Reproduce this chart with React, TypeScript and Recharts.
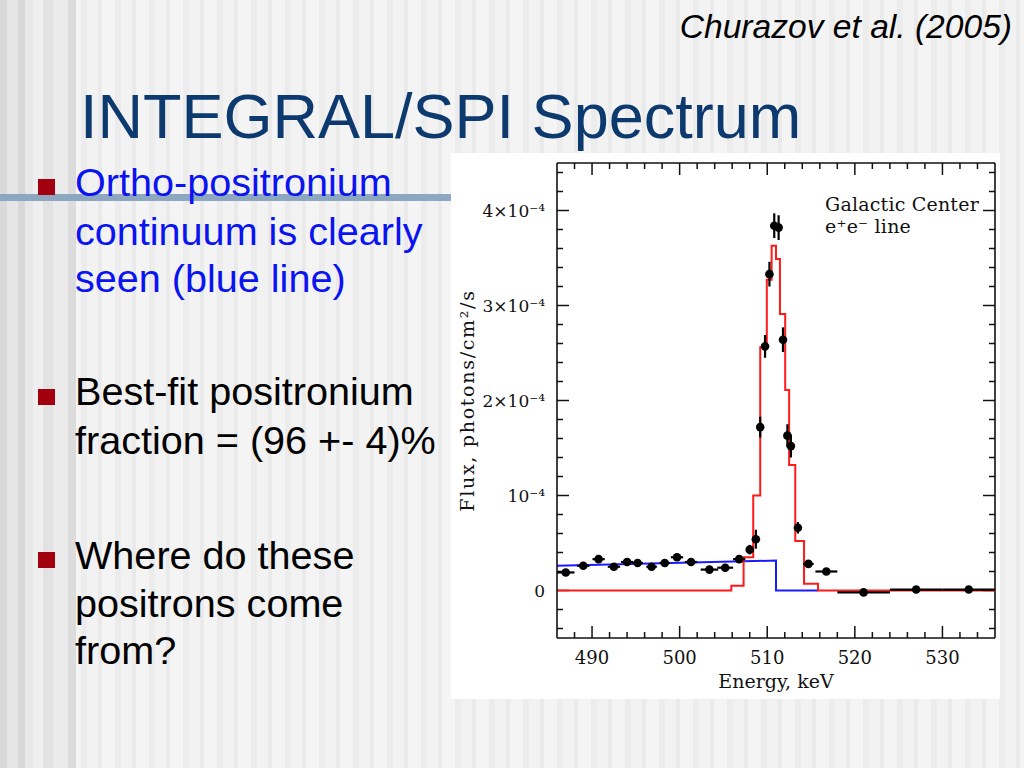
import React from 'react'
import { ComposedChart, Line, Scatter, XAxis, YAxis, ErrorBar, ReferenceLine } from 'recharts'

// SPI data points: energy (keV), flux in units of 1e-4 photons/cm2/s
const pointEnergy = [487.0, 489.0, 490.75, 492.5, 494.0, 495.2, 496.8, 498.3, 499.7, 501.3, 503.4, 505.2, 506.8, 508.0, 508.7, 509.2, 509.75, 510.25, 510.8, 511.3, 511.8, 512.3, 512.7, 513.5, 514.7, 516.75, 521.0, 527.0, 533.0]
const pointFlux = [0.19, 0.26, 0.33, 0.25, 0.30, 0.29, 0.25, 0.29, 0.35, 0.30, 0.22, 0.24, 0.33, 0.43, 0.54, 1.72, 2.57, 3.33, 3.84, 3.82, 2.64, 1.63, 1.52, 0.66, 0.28, 0.20, -0.02, 0.01, 0.01]
const pointEnergyErr = [1.0, 0.7, 0.7, 0.7, 0.7, 0.6, 0.6, 0.6, 0.7, 0.7, 1.0, 0.9, 0.7, 0.3, 0.3, 0.25, 0.25, 0.25, 0.25, 0.25, 0.25, 0.25, 0.25, 0.3, 0.6, 1.25, 3.0, 3.0, 3.0]
const pointFluxErr = [0.03, 0.03, 0.04, 0.03, 0.04, 0.04, 0.03, 0.04, 0.04, 0.04, 0.03, 0.04, 0.04, 0.05, 0.1, 0.11, 0.12, 0.13, 0.13, 0.13, 0.13, 0.12, 0.12, 0.06, 0.04, 0.03, 0.02, 0.02, 0.02]

// best-fit model (red histogram): bin left edges and levels
const modelEdges = [486, 505.9, 507.3, 508.4, 509.2, 509.95, 510.5, 511.0, 511.45, 512.05, 512.5, 513.2, 514.2, 515.8, 536]
const modelFlux = [0, 0.05, 0.35, 1.0, 2.56, 3.27, 3.63, 3.49, 2.91, 2.11, 1.32, 0.52, 0.07, 0, 0]

// ortho-positronium continuum (blue)
const opsEnergy = [486, 511.0, 511.0, 515.8]
const opsFlux = [0.26, 0.315, 0, 0]

const xTicks = [488, 490, 492, 494, 496, 498, 500, 502, 504, 506, 508, 510, 512, 514, 516, 518, 520, 522, 524, 526, 528, 530, 532, 534]
const xMajor = [490, 500, 510, 520, 530]
const yTicks = [-0.4, -0.2, 0, 0.2, 0.4, 0.6, 0.8, 1, 1.2, 1.4, 1.6, 1.8, 2, 2.2, 2.4, 2.6, 2.8, 3, 3.2, 3.4, 3.6, 3.8, 4, 4.2, 4.4]
const yMajor = [0, 1, 2, 3, 4]
const yMajorLabels = ['0', '10⁻⁴', '2×10⁻⁴', '3×10⁻⁴', '4×10⁻⁴']

const X_DOMAIN = [486, 536]
const Y_DOMAIN = [-0.5, 4.5]

const points = pointEnergy.map((e, i) => ({ e, f: pointFlux[i], ex: pointEnergyErr[i], ey: pointFluxErr[i] }))
const model = modelEdges.map((e, i) => ({ e, f: modelFlux[i] }))
const ops = opsEnergy.map((e, i) => ({ e, f: opsFlux[i] }))

const SERIF = '"DejaVu Serif", serif'
const SANS = '"Liberation Sans", Arial, sans-serif'
const AX = '#111'
const TW = 1.5

// plot box is 438 x 475 px; convert tick lengths (px) to data units
const KEV_PER_PX = (X_DOMAIN[1] - X_DOMAIN[0]) / 438
const FLUX_PER_PX = (Y_DOMAIN[1] - Y_DOMAIN[0]) / 475

const isMajorY = (v: number) => yMajor.some((m) => Math.abs(m - v) < 1e-6)

// eslint-disable-next-line @typescript-eslint/no-explicit-any
function BottomTick({ x, y, payload }: any) {
  if (!xMajor.includes(payload.value)) return <g />
  return (
    <text x={x} y={y + 26} textAnchor="middle" fontFamily={SERIF} fontSize={18} fill="#111">
      {payload.value}
    </text>
  )
}

// eslint-disable-next-line @typescript-eslint/no-explicit-any
function LeftTick({ x, y, payload }: any) {
  const idx = yMajor.findIndex((m) => Math.abs(m - payload.value) < 1e-6)
  if (idx < 0) return <g />
  return (
    <text x={x - 12} y={y} dy="0.36em" textAnchor="end" fontFamily={SERIF} fontSize={17} fill="#111">
      {yMajorLabels[idx]}
    </text>
  )
}

// eslint-disable-next-line @typescript-eslint/no-explicit-any
const Dot = ({ cx, cy }: any) => <circle cx={cx} cy={cy} r={4.3} fill="#000" />

const tickMarks = [
  ...xTicks.flatMap((v) => {
    const len = (xMajor.includes(v) ? 12 : 6) * FLUX_PER_PX
    return [
      <ReferenceLine key={`xb${v}`} xAxisId="b" yAxisId="l" ifOverflow="visible" segment={[{ x: v, y: Y_DOMAIN[0] }, { x: v, y: Y_DOMAIN[0] + len }]} stroke={AX} strokeWidth={TW} />,
      <ReferenceLine key={`xt${v}`} xAxisId="b" yAxisId="l" ifOverflow="visible" segment={[{ x: v, y: Y_DOMAIN[1] }, { x: v, y: Y_DOMAIN[1] - len }]} stroke={AX} strokeWidth={TW} />,
    ]
  }),
  ...yTicks.flatMap((v) => {
    const len = (isMajorY(v) ? 12 : 6) * KEV_PER_PX
    return [
      <ReferenceLine key={`yl${v}`} xAxisId="b" yAxisId="l" ifOverflow="visible" segment={[{ x: X_DOMAIN[0], y: v }, { x: X_DOMAIN[0] + len, y: v }]} stroke={AX} strokeWidth={TW} />,
      <ReferenceLine key={`yr${v}`} xAxisId="b" yAxisId="l" ifOverflow="visible" segment={[{ x: X_DOMAIN[1], y: v }, { x: X_DOMAIN[1] - len, y: v }]} stroke={AX} strokeWidth={TW} />,
    ]
  }),
]

const bg =
  'linear-gradient(90deg, #d9d9d9 0px, #d9d9d9 7px, #e6e6e6 7px, #e6e6e6 18px, #d8d8d8 18px, #d8d8d8 25px, #e8e8e8 25px, #e8e8e8 33px, #efefef 33px, #efefef 43px, #e2e2e2 43px, #e2e2e2 53px, #ebebeb 53px, #ebebeb 68px, #dcdcdc 68px, #dcdcdc 76px, rgba(0,0,0,0) 76px), ' +
  'repeating-linear-gradient(90deg, #f4f4f4 0px, #f4f4f4 13px, #ececec 13px, #ececec 19px, #f2f2f2 19px, #f2f2f2 30px, #eaeaea 30px, #eaeaea 34px)'

const bullets = [
  { top: 179, color: '#0a14f0', lines: [['Ortho-positronium', 195.7], ['continuum is clearly', 245], ['seen (blue line)', 291.7]] },
  { top: 389, color: '#000', lines: [['Best-fit positronium', 405], ['fraction = (96 +- 4)%', 454]] },
  { top: 552, color: '#000', lines: [['Where do these', 569.3], ['positrons come', 616.7], ['from?', 664]] },
]

export default function App() {
  return (
    <div style={{ position: 'absolute', left: 0, top: 0, width: 1024, height: 768, overflow: 'hidden', background: bg, backgroundColor: '#f1f1f1' }}>
      <svg width={1024} height={768} style={{ position: 'absolute', left: 0, top: 0 }}>
        <rect x={0} y={194} width={452} height={7} fill="#8ea7c1" />
        <text x={1012} y={38} textAnchor="end" fontFamily={SANS} fontStyle="italic" fontSize={33.6} fill="#000">
          Churazov et al. (2005)
        </text>
        <text x={80} y={138} fontFamily={SANS} fontSize={63} fill="#0d3a6e">
          INTEGRAL/SPI Spectrum
        </text>
        {bullets.map((b, i) => (
          <g key={i}>
            <rect x={38} y={b.top} width={17} height={16} fill="#a3000f" />
            {b.lines.map(([t, base]) => (
              <text key={t as string} x={75} y={base as number} fontFamily={SANS} fontSize={39.6} fill={b.color}>
                {t}
              </text>
            ))}
          </g>
        ))}
        <rect x={451} y={153} width={549} height={546} fill="#ffffff" />
        <text x={825} y={211} fontFamily={SERIF} fontSize={19} letterSpacing={0.2} fill="#111">Galactic Center</text>
        <text x={825} y={233} fontFamily={SERIF} fontSize={19} letterSpacing={0.2} fill="#111">e⁺e⁻ line</text>
      </svg>
      <div style={{ position: 'absolute', left: 450, top: 153 }}>
        <ComposedChart width={550} height={546} margin={{ top: 10, right: 5, bottom: 0, left: 0 }}>
          <XAxis
            xAxisId="b"
            dataKey="e"
            type="number"
            domain={X_DOMAIN}
            allowDataOverflow
            ticks={xTicks}
            interval={0}
            height={61}
            tickSize={0}
            tickMargin={0}
            tickLine={false}
            axisLine={{ stroke: AX, strokeWidth: 1.6 }}
            tick={<BottomTick />}
            // eslint-disable-next-line @typescript-eslint/no-explicit-any
            label={{ content: ({ viewBox }: any) => (
              <text x={viewBox.x + viewBox.width / 2} y={viewBox.y + 50} textAnchor="middle" fontFamily={SERIF} fontSize={19} fill="#111">
                Energy, keV
              </text>
            ) }}
          />
          <YAxis
            yAxisId="l"
            dataKey="f"
            type="number"
            domain={Y_DOMAIN}
            allowDataOverflow
            ticks={yTicks}
            interval={0}
            width={107}
            tickSize={0}
            tickMargin={0}
            tickLine={false}
            axisLine={{ stroke: AX, strokeWidth: 1.6 }}
            tick={<LeftTick />}
            // eslint-disable-next-line @typescript-eslint/no-explicit-any
            label={{ content: ({ viewBox }: any) => {
              const cx = viewBox.x + 24
              const cy = viewBox.y + viewBox.height / 2
              return (
                <text x={cx} y={cy} transform={`rotate(-90, ${cx}, ${cy})`} textAnchor="middle" fontFamily={SERIF} fontSize={19} letterSpacing={1.7} fill="#111">
                  Flux, photons/cm²/s
                </text>
              )
            } }}
          />
          <ReferenceLine xAxisId="b" yAxisId="l" y={Y_DOMAIN[1]} ifOverflow="visible" stroke={AX} strokeWidth={1.6} />
          <ReferenceLine xAxisId="b" yAxisId="l" x={X_DOMAIN[1]} ifOverflow="visible" stroke={AX} strokeWidth={1.6} />
          {tickMarks}
          <Line xAxisId="b" yAxisId="l" data={ops} dataKey="f" type="linear" stroke="#1a1aff" strokeWidth={2} dot={false} isAnimationActive={false} />
          <Line xAxisId="b" yAxisId="l" data={model} dataKey="f" type="stepAfter" stroke="#ff1a1a" strokeWidth={2} dot={false} isAnimationActive={false} />
          <Scatter xAxisId="b" yAxisId="l" data={points} dataKey="f" shape={<Dot />} isAnimationActive={false}>
            <ErrorBar dataKey="ex" direction="x" width={0} stroke="#000" strokeWidth={2.2} isAnimationActive={false} />
            <ErrorBar dataKey="ey" direction="y" width={0} stroke="#000" strokeWidth={2.2} isAnimationActive={false} />
          </Scatter>
        </ComposedChart>
      </div>
    </div>
  )
}
